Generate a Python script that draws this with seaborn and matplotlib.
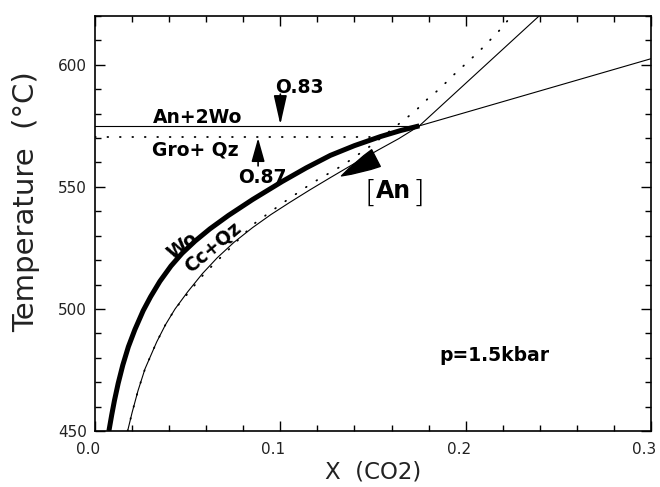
import matplotlib
matplotlib.use("Agg")
import matplotlib.pyplot as plt
import matplotlib.transforms as mtransforms
import seaborn as sns
from matplotlib.ticker import MultipleLocator, FixedLocator

# ---------------- data ----------------
# Cc + Qz = Wo + CO2 (thick, stable part)
wo_x = [0.0075, 0.0090, 0.0105, 0.0125, 0.0150, 0.0180, 0.0215, 0.0260,
        0.0300, 0.0350, 0.0410, 0.0470, 0.0540, 0.0620, 0.0720, 0.0850,
        0.1010, 0.1140, 0.1270, 0.1400, 0.1540, 0.1650, 0.1750]
wo_T = [450, 456.5, 462.5, 469.5, 477, 484.5, 491.5, 499.3,
        505, 511.3, 517.6, 522.8, 527.8, 532.8, 538.3, 544.8,
        552.2, 557.8, 562.9, 566.9, 570.6, 573.1, 575]
# metastable extension of the Wo curve
wo_ext_x = [0.175, 0.3]
wo_ext_T = [575, 602.5]
# thin curve below the Wo curve
thin_x = [0.0176, 0.0200, 0.0232, 0.0270, 0.0333, 0.0380, 0.0432, 0.0500,
          0.0580, 0.0660, 0.0750, 0.0850, 0.0950, 0.1050, 0.1160, 0.1270,
          0.1400, 0.1530, 0.1640, 0.1750]
thin_T = [450, 457.5, 466.5, 475.5, 486.5, 493.5, 500, 507,
          514.5, 521, 527.3, 533.3, 538.7, 543.6, 548.8, 553.8,
          559.6, 565.2, 569.8, 575]
# steep thin line above the invariant point
steep_x = [0.175, 0.2396]
steep_T = [575, 620]
# dotted curve
dot_x = [0.0176, 0.0200, 0.0232, 0.0270, 0.0333, 0.0380, 0.0432, 0.0475,
         0.059, 0.073, 0.086, 0.1015, 0.117, 0.134, 0.150, 0.166, 0.1727,
         0.179, 0.186, 0.193, 0.200, 0.207, 0.213, 0.220, 0.2245]
dot_T = [450, 457.5, 466.5, 475.5, 486.5, 493.5, 500, 504,
         514.5, 525, 535, 543.5, 551.5, 559, 567.5, 577, 581,
         585.7, 590.2, 595.5, 600.4, 605.3, 610, 615.5, 620]
# An + 2Wo = Gro + Qz (horizontal)
hor_x = [0.0, 0.175]
hor_T = [575, 575]
# dotted horizontal
hdot_x = [0.0, 0.152]
hdot_T = [570.5, 570.5]

xticks = [0.0, 0.1, 0.2, 0.3]
xtick_labels = ["0.0", "0.1", "0.2", "0.3"]
yticks = [450, 500, 550, 600]
ytick_labels = ["450", "500", "550", "600"]

# ---------------- styling ----------------
sns.set_theme(style="ticks")
plt.rcParams['font.family'] = ['DejaVu Sans']
plt.rcParams['mathtext.fontset'] = 'dejavusans'

fig = plt.figure(figsize=(6.6, 4.87), dpi=100)
ax = fig.add_axes([95 / 660, 56 / 487, 556 / 660, 415 / 487])


def line(x, y, **kw):
    sns.lineplot(x=x, y=y, ax=ax, sort=False, estimator=None,
                 color='black', **kw)


line(wo_x, wo_T, linewidth=3.6, solid_capstyle='butt',
     solid_joinstyle='round')
line(wo_ext_x, wo_ext_T, linewidth=0.8)
line(thin_x, thin_T, linewidth=0.8)
line(steep_x, steep_T, linewidth=0.8)
line(hor_x, hor_T, linewidth=0.8)
line(dot_x, dot_T, linewidth=1.3, linestyle=(0, (0.4, 6.5)),
     dash_capstyle='round')
line(hdot_x, hdot_T, linewidth=1.3, linestyle=(0, (0.4, 6.5)),
     dash_capstyle='round')

ax.set_xlim(0, 0.3)
ax.set_ylim(450, 620)
ax.xaxis.set_major_locator(FixedLocator(xticks))
ax.set_xticklabels(xtick_labels)
ax.yaxis.set_major_locator(FixedLocator(yticks))
ax.set_yticklabels(ytick_labels)
ax.xaxis.set_minor_locator(MultipleLocator(0.02))
ax.yaxis.set_minor_locator(MultipleLocator(10))
ax.tick_params(which='both', direction='in', top=True, right=True,
               color='black', width=1.0, labelsize=11, labelcolor='#222222')
ax.tick_params(which='major', length=7)
ax.tick_params(which='minor', length=4)
ax.tick_params(axis='x', which='major', pad=8)
ax.tick_params(axis='y', which='major', pad=6)
for s in ax.spines.values():
    s.set_linewidth(1.2)
    s.set_color('black')
    s.set_visible(True)

# x tick labels sit slightly left of their ticks in the reference
offset = mtransforms.ScaledTranslation(-7 / 100, 0, fig.dpi_scale_trans)
for lab in ax.get_xticklabels():
    lab.set_transform(lab.get_transform() + offset)

ax.set_ylabel("Temperature  (°C)", fontsize=21, color='#222222')
ax.set_xlabel("X  (CO2)", fontsize=16.5, color='#222222', va='top')
ax.yaxis.set_label_coords(-0.099, 0.552)
ax.xaxis.set_label_coords(0.5, -0.072)

# ---------------- annotations ----------------
tk = dict(fontsize=13.5, fontweight='bold', color='black')
ax.text(0.0313, 576.3, "An+2Wo", ha='left', va='baseline', **tk)
ax.text(0.0308, 562.7, "Gro+ Qz", ha='left', va='baseline', **tk)
ax.text(0.0971, 588.6, "O.83", ha='left', va='baseline', **tk)
ax.text(0.0772, 551.6, "O.87", ha='left', va='baseline', **tk)
ax.text(0.186, 478.7, "p=1.5kbar", ha='left', va='baseline', **tk)
# [An] with thin tall brackets
ax.text(0.1452, 544.0, "[", ha='left', va='baseline', fontsize=22,
        fontweight='light', color='black')
ax.text(0.1517, 545.6, "An", ha='left', va='baseline', fontsize=17,
        fontweight='bold', color='black')
ax.text(0.1716, 544.0, "]", ha='left', va='baseline', fontsize=22,
        fontweight='light', color='black')
ax.text(0.047, 525.9, "Wo", ha='center', va='center', rotation=36,
        rotation_mode='anchor', **tk)
ax.text(0.0637, 525.5, "Cc+Qz", ha='center', va='center', rotation=40,
        rotation_mode='anchor', **tk)

ax.annotate("", xy=(0.1, 575.5), xytext=(0.1, 588),
            arrowprops=dict(arrowstyle="-|>,head_length=1.33,head_width=0.3",
                            color='black', lw=1.2, shrinkA=0, shrinkB=0,
                            mutation_scale=13.5))
ax.annotate("", xy=(0.088, 570), xytext=(0.088, 558.6),
            arrowprops=dict(arrowstyle="-|>,head_length=1.07,head_width=0.3",
                            color='black', lw=1.2, shrinkA=0, shrinkB=0,
                            mutation_scale=13.5))
ax.annotate("", xy=(0.133, 554.5), xytext=(0.1516, 561.8),
            arrowprops=dict(arrowstyle="wedge,tail_width=0.9,shrink_factor=0.6",
                            fc='black', ec='black', shrinkA=0, shrinkB=0,
                            mutation_scale=15))

fig.savefig("out.png", dpi=100)
